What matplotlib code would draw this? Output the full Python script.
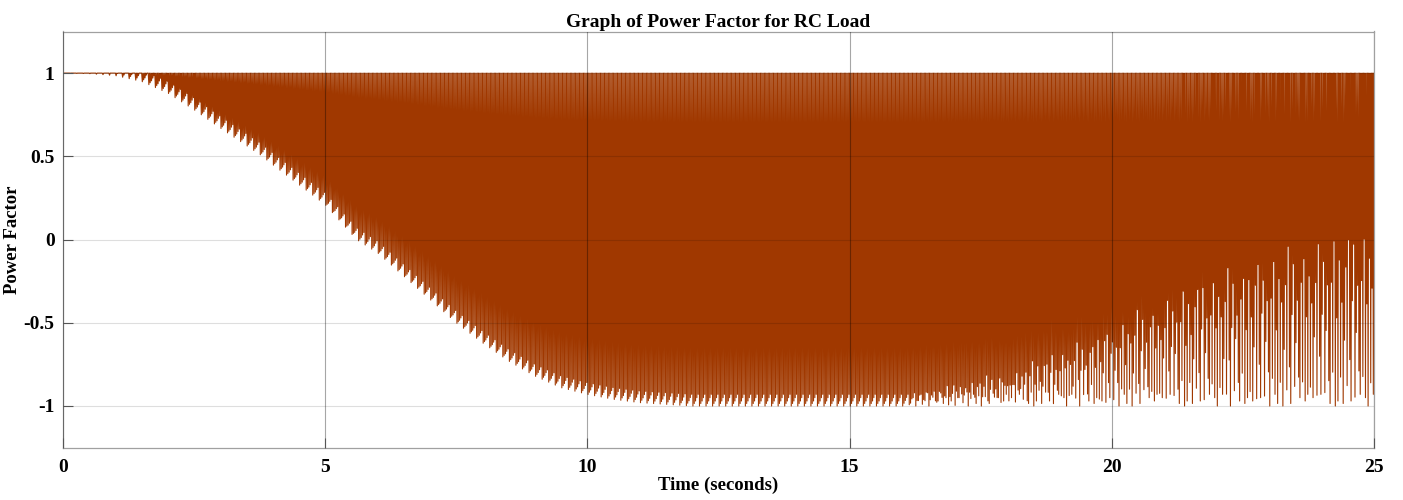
import numpy as np
import matplotlib
matplotlib.use("Agg")
import matplotlib.pyplot as plt

# ---- data ----
# lower envelope of the oscillation (value of troughs) vs time
env_t = [0, 0.5, 1, 1.5, 2, 2.5, 3, 3.76, 4, 4.5, 5, 5.6, 6, 6.5, 7, 7.5,
         8, 8.5, 9, 9.5, 10, 10.5, 11, 11.5, 12, 25]
env_lower = [1.0, 0.997, 0.985, 0.95, 0.88, 0.78, 0.67, 0.51, 0.45, 0.33, 0.21,
             0.0, -0.08, -0.22, -0.36, -0.5, -0.62, -0.73, -0.82, -0.89, -0.93,
             -0.96, -0.98, -0.99, -1.0, -1.0]
# upper envelope (peaks)
peak_value = 1.0
# depth reached by most troughs in the late, irregular part
typ_t = [0, 16, 18, 20, 22, 25]
typ_lower = [-1.0, -1.0, -0.85, -0.55, -0.2, 0.1]
# irregular trough depths late in the record (0 = typical depth, 1 = full envelope)
late_pattern = [1.0, 0.3, 0.85, 0.1, 1.0, 0.5, 1.0, 0.2, 0.9, 0.4, 1.0, 0.65,
                0.25, 0.95, 0.05, 0.75, 1.0, 0.45, 0.15, 0.95, 0.6, 0.35, 0.85]
# saw-tooth of trough height above the envelope along its edge (value units)
tooth_offset = [0.0, 0.015, 0.03, 0.05, 0.07]
cycles_per_second = 40.0
t_end = 25.0

# ---- build the oscillation vertices ----
n_half = int(round(2 * cycles_per_second * t_end))
tv = np.arange(n_half + 1) / (2 * cycles_per_second)
idx = np.arange(len(tv))
lo = np.interp(tv, env_t, env_lower)
typ = np.maximum(np.interp(tv, typ_t, typ_lower), lo)
late = np.array([late_pattern[(i // 2) % len(late_pattern)] for i in idx])
tooth = np.array([tooth_offset[(i // 2) % len(tooth_offset)] for i in idx])
base = typ + (lo - typ) * late
trough = np.minimum(base + tooth, peak_value)
yv = np.where(idx % 2 == 0, peak_value, trough)

# ---- figure ----
fig = plt.figure(figsize=(14.03, 5.0), dpi=100)
ax = fig.add_axes([63/1403, 1-447.6/500, (1374-63)/1403, (447.6-31.5)/500])

ax.plot(tv, yv, color='#A03800', lw=0.8, zorder=2)

ax.set_xlim(0, 25)
ax.set_ylim(-1.25, 1.25)
ax.set_xticks([0, 5, 10, 15, 20, 25])
ax.set_yticks([-1, -0.5, 0, 0.5, 1])
ax.set_yticklabels(['-1', '-0.5', '0', '0.5', '1'])

font = dict(family='Liberation Serif', weight='bold')
for lab in ax.get_xticklabels() + ax.get_yticklabels():
    lab.set_fontfamily('Liberation Serif')
    lab.set_fontweight('bold')
    lab.set_fontsize(14)
ax.tick_params(direction='in', length=7, width=0.8, color='#555555')
ax.tick_params(axis='x', pad=8)
ax.tick_params(axis='y', pad=6)

ax.set_axisbelow(False)
ax.xaxis.grid(True, color='black', alpha=0.35, lw=0.8, zorder=3)
ax.yaxis.grid(True, color='black', alpha=0.13, lw=0.8, zorder=3)
for s in ax.spines.values():
    s.set_color('#a0a0a0')
    s.set_linewidth(0.9)

ax.set_title('Graph of Power Factor for RC Load', fontsize=14, pad=3, **font)
ax.set_xlabel('Time (seconds)', fontsize=13.5, labelpad=1, **font)
ax.set_ylabel('Power Factor', fontsize=13.5, labelpad=2, **font)

fig.savefig('out.png', dpi=100)
